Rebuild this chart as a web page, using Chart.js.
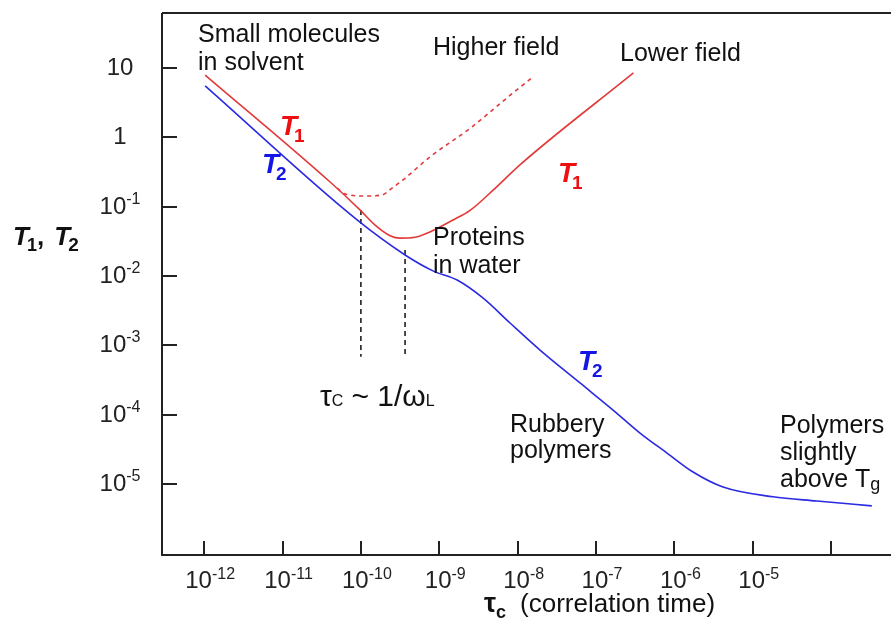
<!DOCTYPE html>
<html>
<head>
<meta charset="utf-8">
<script src="https://cdn.jsdelivr.net/npm/chart.js@4/dist/chart.umd.min.js"></script>
<style>
  html, body { margin: 0; padding: 0; background: #fff; }
  #wrap { width: 891px; height: 619px; position: relative; }
</style>
</head>
<body>
<div id="wrap"><canvas id="chart"></canvas></div>
<script>
// tick decades and their labels (base, exponent)
const xTickExps = [-12, -11, -10, -9, -8, -7, -6, -5, -4];
const xTickLabels = [['10', '-12'], ['10', '-11'], ['10', '-10'], ['10', '-9'], ['10', '-8'],
                     ['10', '-7'], ['10', '-6'], ['10', '-5'], ['', '']];
const yTickExps = [1, 0, -1, -2, -3, -4, -5];
const yTickLabels = [['10', ''], ['1', ''], ['10', '-1'], ['10', '-2'], ['10', '-3'], ['10', '-4'], ['10', '-5']];

// T1 at lower field (solid red)
const tauT1Low = [1.03e-12, 4.05e-11, 9.8e-11, 1.52e-10, 2.36e-10, 3.16e-10, 4.9e-10, 7.6e-10,
                  1.5e-9, 2.5e-9, 4.9e-9, 1.07e-8, 3.0e-7];
const t1Low = [7.9, 0.226, 0.089, 0.054, 0.038, 0.035, 0.036, 0.043, 0.064, 0.089, 0.174, 0.40, 8.47];

// T1 at higher field (dashed red)
const tauT1High = [5.0e-11, 6.3e-11, 1.13e-10, 1.86e-10, 2.5e-10, 3.45e-10, 7.6e-10, 2.5e-9, 7.3e-9, 1.57e-8];
const t1High = [0.185, 0.152, 0.142, 0.147, 0.185, 0.242, 0.52, 1.36, 3.69, 7.41];

// T2 (blue)
const tauT2 = [1.03e-12, 8.95e-11, 3.66e-10, 8.3e-10, 1.69e-9, 3.6e-9, 8.0e-9, 1.93e-8, 6.25e-8,
               1.65e-7, 3.64e-7, 8.05e-7, 1.73e-6, 4.17e-6, 1.81e-5, 6.6e-5, 3.3e-4];
const t2 = [5.5, 0.064, 0.020, 0.0118, 0.0087, 0.0048, 0.00209, 8.5e-4, 2.85e-4,
            1.16e-4, 5.4e-5, 2.78e-5, 1.48e-5, 9.0e-6, 6.5e-6, 5.65e-6, 4.8e-6];

// tau_c ~ 1/omega_L markers (dashed black)
const tauMarkA = [1.0e-10, 1.0e-10];
const markA = [0.089, 6.8e-4];
const tauMarkB = [3.66e-10, 3.66e-10];
const markB = [0.0237, 6.8e-4];

const pts = (xs, ys) => xs.map((x, i) => ({ x: x, y: ys[i] }));

const FONT = '"Liberation Sans", Arial, sans-serif';
const RED = '#ee1010';
const BLUE = '#1515e6';

// draw a run of text pieces: [text, font, dy, color, extra gap]
function drawRun(ctx, x, y, parts, align) {
    let w = 0;
    parts.forEach(p => { ctx.font = p[1]; w += ctx.measureText(p[0]).width + (p[4] || 0); });
    let cx = align === 'center' ? x - w / 2 : x;
    parts.forEach(p => {
        ctx.font = p[1];
        ctx.fillStyle = p[3] || '#111';
        ctx.fillText(p[0], cx, y + (p[2] || 0));
        cx += ctx.measureText(p[0]).width + (p[4] || 0);
    });
}

function drawT(ctx, x, y, sub, color, size) {
    drawRun(ctx, x, y, [
        ['T', 'italic bold ' + size + 'px ' + FONT, 0, color, -3],
        [sub, 'bold ' + Math.round(size * 0.68) + 'px ' + FONT, Math.round(size * 0.25), color]
    ]);
}

const decor = {
    id: 'decor',
    afterDraw(chart) {
        const ctx = chart.ctx;
        const a = chart.chartArea;
        const xs = chart.scales.x, ys = chart.scales.y;
        ctx.save();
        ctx.strokeStyle = '#222';
        ctx.lineWidth = 2;
        ctx.beginPath();
        ctx.moveTo(a.left, a.top); ctx.lineTo(chart.width, a.top);
        ctx.moveTo(a.left, a.top); ctx.lineTo(a.left, a.bottom);
        ctx.moveTo(a.left - 1, a.bottom); ctx.lineTo(chart.width, a.bottom);
        ctx.stroke();

        // inward tick marks
        ctx.beginPath();
        xTickExps.forEach(e => {
            const px = Math.round(xs.getPixelForValue(Math.pow(10, e)));
            ctx.moveTo(px, a.bottom); ctx.lineTo(px, a.bottom - 14);
        });
        yTickExps.forEach(e => {
            const py = Math.round(ys.getPixelForValue(Math.pow(10, e)));
            ctx.moveTo(a.left, py); ctx.lineTo(a.left + 15, py);
        });
        ctx.stroke();

        ctx.textBaseline = 'alphabetic';
        // tick labels
        xTickExps.forEach((e, i) => {
            const lab = xTickLabels[i];
            if (!lab[0]) return;
            const px = xs.getPixelForValue(Math.pow(10, e));
            drawRun(ctx, px + 6, 588, [
                [lab[0], '24px ' + FONT, 0, '#222'],
                [lab[1], '16px ' + FONT, -9, '#222']
            ], 'center');
        });
        yTickExps.forEach((e, i) => {
            const lab = yTickLabels[i];
            const py = ys.getPixelForValue(Math.pow(10, e));
            drawRun(ctx, 120, py + 7, [
                [lab[0], '24px ' + FONT, 0, '#222'],
                [lab[1], '16px ' + FONT, -10, '#222']
            ], 'center');
        });

        // axis titles
        drawRun(ctx, 13, 245, [
            ['T', 'italic bold 26px ' + FONT, 0, '#111', -2],
            ['1', 'bold 18px ' + FONT, 6, '#111'],
            [', ', 'bold 26px ' + FONT, 0, '#111', 3],
            ['T', 'italic bold 26px ' + FONT, 0, '#111', -2],
            ['2', 'bold 19px ' + FONT, 6, '#111']
        ]);
        drawRun(ctx, 484, 612, [
            ['\u03c4', 'bold 27px ' + FONT, 0, '#111'],
            ['c', 'bold 18px ' + FONT, 6, '#111', 14],
            ['(correlation time)', '26px ' + FONT, 0, '#111']
        ]);

        // annotations
        const f = '25px ' + FONT;
        ctx.fillStyle = '#111';
        ctx.font = f;
        [['Small molecules', 198, 42], ['in solvent', 198, 70],
         ['Higher field', 433, 55], ['Lower field', 620, 61],
         ['Proteins', 433, 245], ['in water', 433, 273],
         ['Rubbery', 510, 432], ['polymers', 510, 458],
         ['Polymers', 780, 433], ['slightly', 780, 460]].forEach(t => ctx.fillText(t[0], t[1], t[2]));
        drawRun(ctx, 780, 487, [
            ['above T', f, 0, '#111'],
            ['g', '18px ' + FONT, 3, '#111']
        ]);
        drawRun(ctx, 320, 406, [
            ['\u03c4', '30px ' + FONT, 0, '#111'],
            ['C', '16px ' + FONT, 0, '#111', 8],
            ['~ 1/', '30px ' + FONT, 0, '#111'],
            ['\u03c9', '30px ' + FONT, 0, '#111'],
            ['L', '16px ' + FONT, 0, '#111']
        ]);

        drawT(ctx, 280, 135, '1', RED, 28);
        drawT(ctx, 262, 173, '2', BLUE, 28);
        drawT(ctx, 558, 182, '1', RED, 28);
        drawT(ctx, 578, 370, '2', BLUE, 28);
        ctx.restore();
    }
};

new Chart(document.getElementById('chart'), {
    type: 'line',
    data: {
        datasets: [
            {
                label: 'T1 lower field',
                data: pts(tauT1Low, t1Low),
                borderColor: '#e23a3a',
                borderWidth: 1.6,
                cubicInterpolationMode: 'monotone'
            },
            {
                label: 'T1 higher field',
                data: pts(tauT1High, t1High),
                borderColor: '#e23a3a',
                borderWidth: 1.6,
                borderDash: [4, 4],
                cubicInterpolationMode: 'monotone'
            },
            {
                label: 'T2',
                data: pts(tauT2, t2),
                borderColor: '#2a2ae2',
                borderWidth: 1.6,
                cubicInterpolationMode: 'monotone'
            },
            {
                label: 'marker A',
                data: pts(tauMarkA, markA),
                borderColor: '#111',
                borderWidth: 1.5,
                borderDash: [5, 4]
            },
            {
                label: 'marker B',
                data: pts(tauMarkB, markB),
                borderColor: '#111',
                borderWidth: 1.5,
                borderDash: [5, 4]
            }
        ]
    },
    options: {
        responsive: true,
        maintainAspectRatio: false,
        animation: false,
        layout: { padding: { left: 162, top: 13, right: 0, bottom: 64 } },
        elements: { point: { radius: 0 } },
        plugins: {
            legend: { display: false },
            tooltip: { enabled: false }
        },
        scales: {
            x: { type: 'logarithmic', display: false, bounds: 'data', min: 2.9e-13, max: 5.8e-4 },
            y: { type: 'logarithmic', display: false, bounds: 'data', min: 9.4e-7, max: 62 }
        }
    },
    plugins: [decor]
});
</script>
</body>
</html>
